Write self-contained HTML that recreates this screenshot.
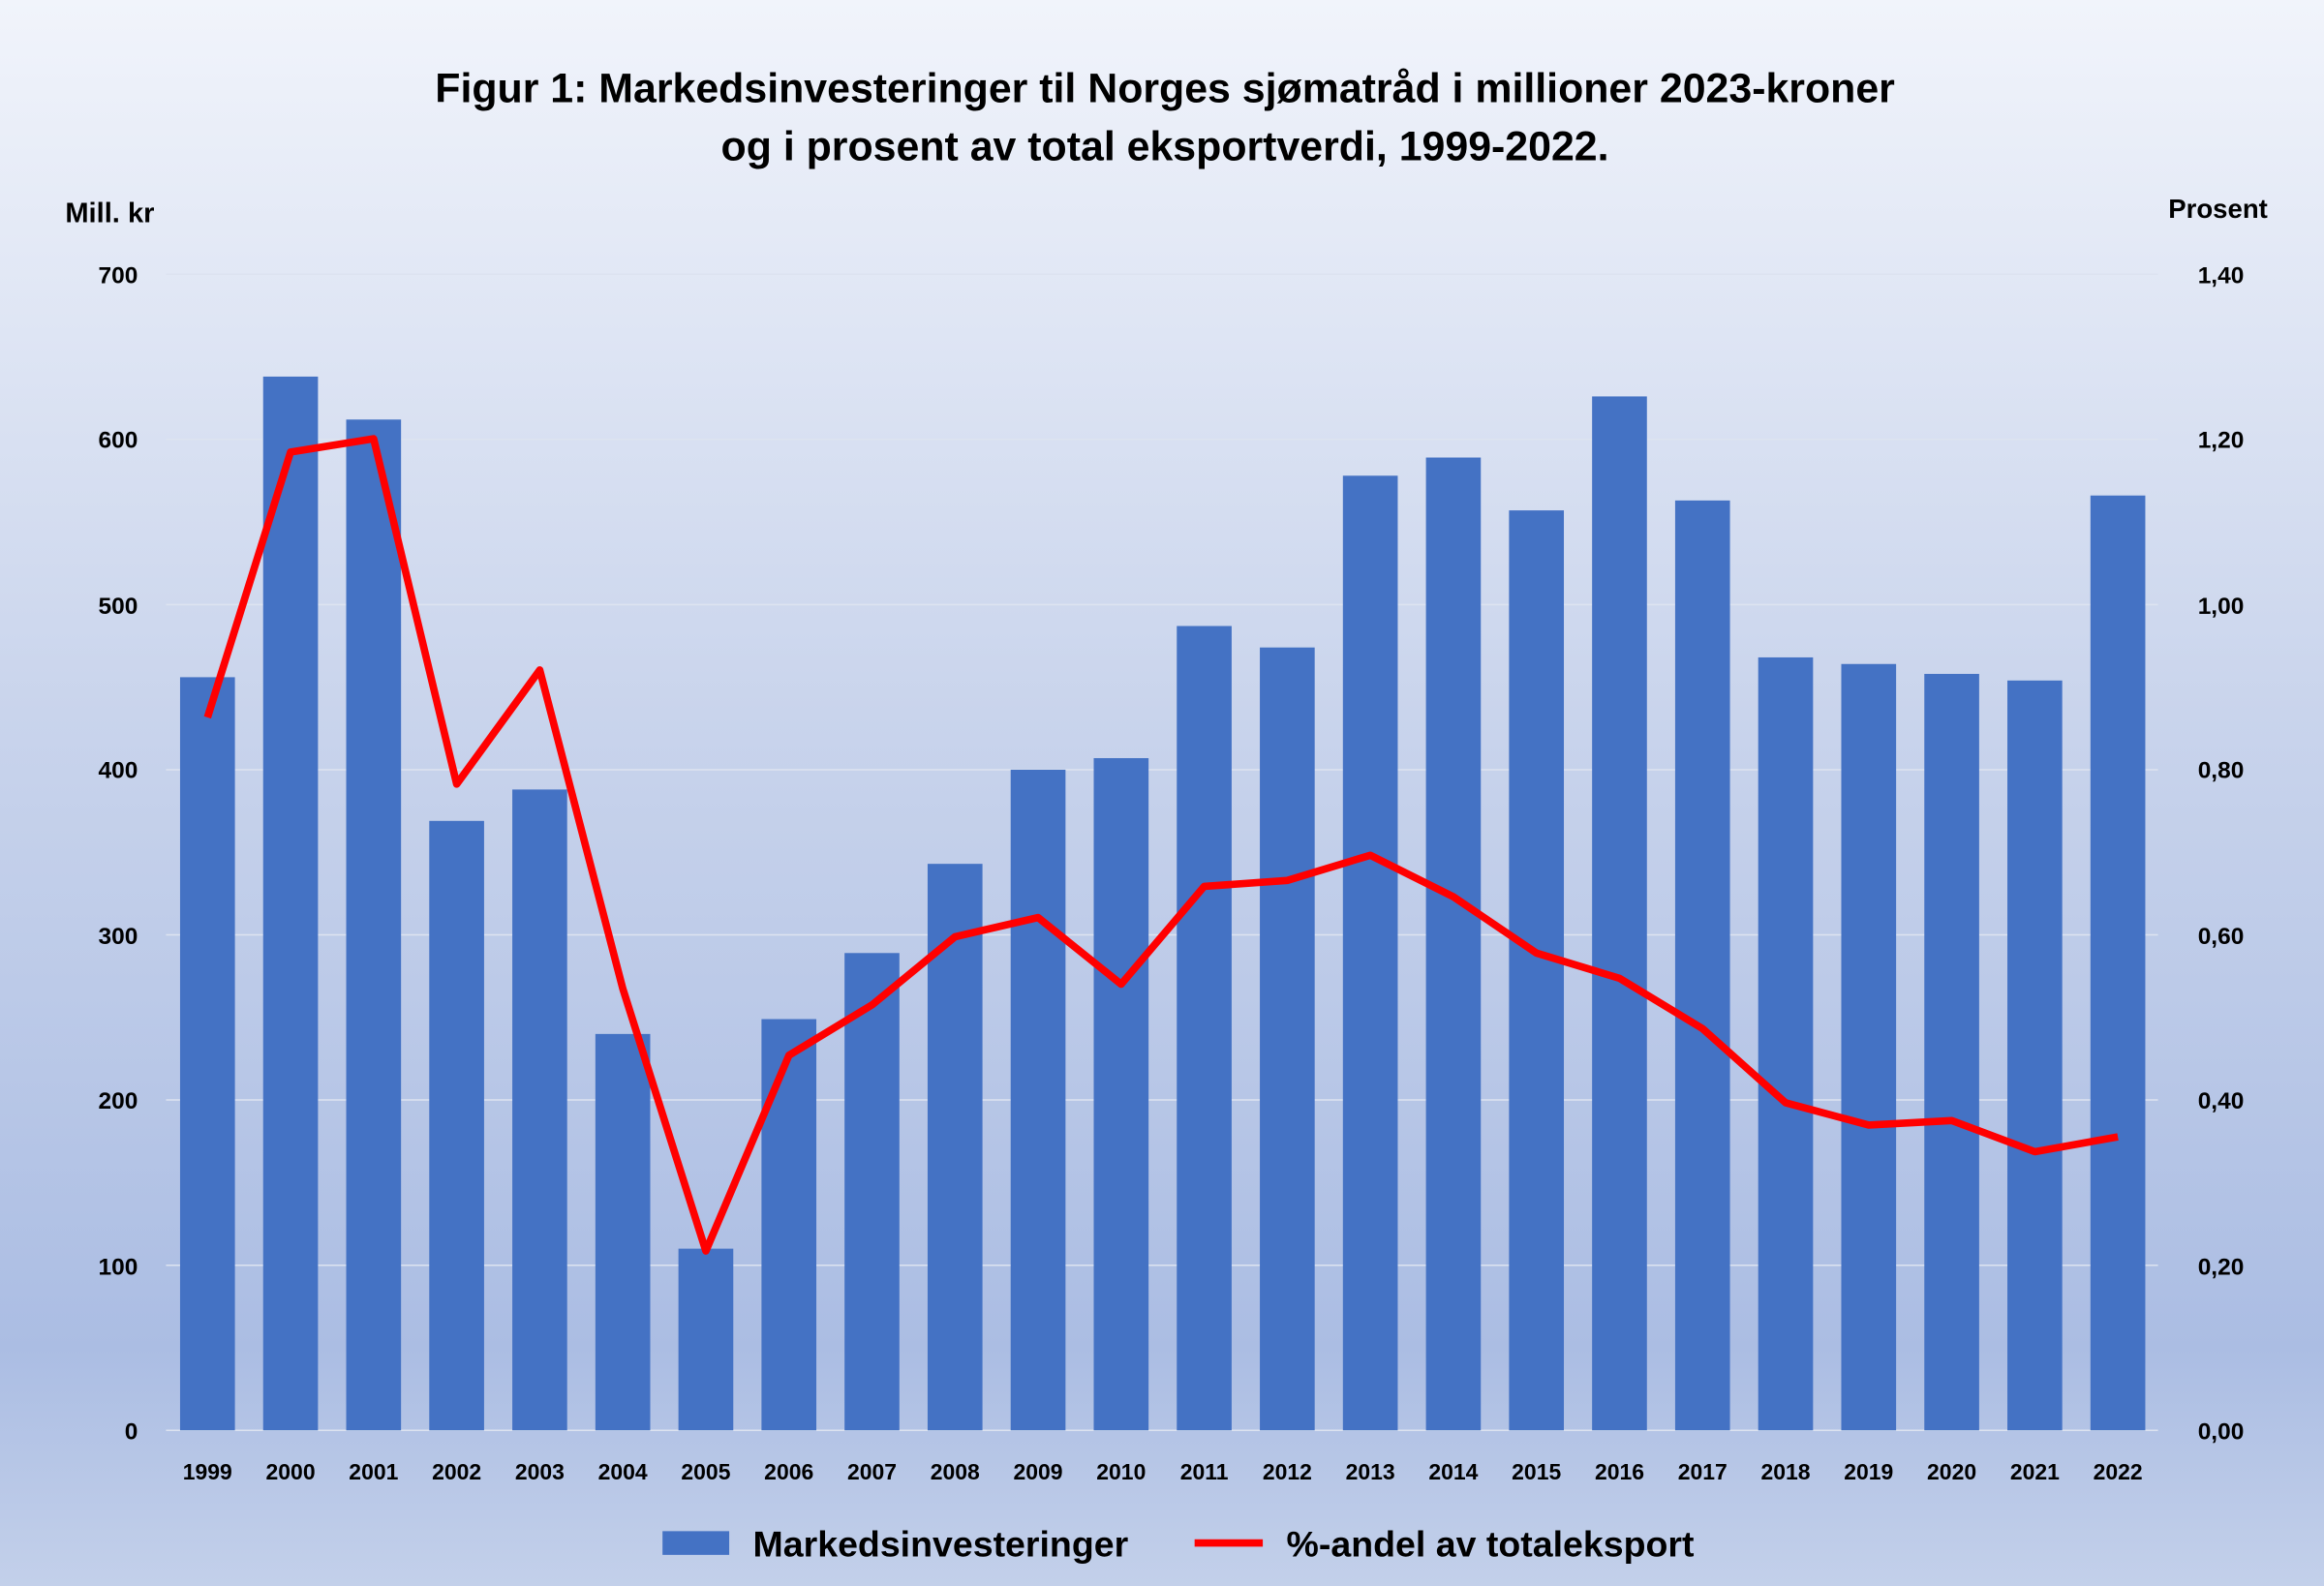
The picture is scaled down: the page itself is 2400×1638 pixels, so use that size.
<!DOCTYPE html>
<html><head><meta charset="utf-8"><style>
html,body{margin:0;padding:0;width:2400px;height:1638px;overflow:hidden}
svg{display:block}
text{font-family:"Liberation Sans",sans-serif;font-weight:bold;fill:#000}
</style></head><body>
<svg width="2400" height="1638" viewBox="0 0 1568 1070" preserveAspectRatio="none">
<defs><linearGradient id="bg" x1="0" y1="0" x2="0" y2="1">
<stop offset="0" stop-color="#f1f4fb"/><stop offset="0.45" stop-color="#c9d4ec"/>
<stop offset="0.85" stop-color="#abbde3"/><stop offset="1" stop-color="#c3d0ea"/></linearGradient></defs>
<rect width="1568" height="1070" fill="url(#bg)"/>
<text x="786" y="69" font-size="28" text-anchor="middle">Figur 1: Markedsinvesteringer til Norges sjømatråd i millioner 2023-kroner</text>
<text x="786" y="108" font-size="28" text-anchor="middle">og i prosent av total eksportverdi, 1999-2022.</text>
<text x="44" y="150" font-size="19">Mill. kr</text>
<text x="1530" y="147" font-size="18" text-anchor="end">Prosent</text>
<g stroke="#dde3f0" stroke-width="1">
<line x1="112" x2="1456" y1="185" y2="185"/><line x1="112" x2="1456" y1="296.4" y2="296.4"/>
<line x1="112" x2="1456" y1="407.9" y2="407.9"/><line x1="112" x2="1456" y1="519.3" y2="519.3"/>
<line x1="112" x2="1456" y1="630.7" y2="630.7"/><line x1="112" x2="1456" y1="742.1" y2="742.1"/>
<line x1="112" x2="1456" y1="853.6" y2="853.6"/><line x1="112" x2="1456" y1="965" y2="965"/>
</g>
<g font-size="16" text-anchor="end">
<text x="93" y="191">700</text><text x="93" y="302">600</text><text x="93" y="414">500</text>
<text x="93" y="525">400</text><text x="93" y="637">300</text><text x="93" y="748">200</text>
<text x="93" y="860">100</text><text x="93" y="971">0</text>
</g>
<g font-size="16" text-anchor="end">
<text x="1514" y="191">1,40</text><text x="1514" y="302">1,20</text><text x="1514" y="414">1,00</text>
<text x="1514" y="525">0,80</text><text x="1514" y="637">0,60</text><text x="1514" y="748">0,40</text>
<text x="1514" y="860">0,20</text><text x="1514" y="971">0,00</text>
</g>
<g id="bars" fill="#4472c4"></g>
<g id="xl" font-size="15" text-anchor="middle"></g>
<polyline id="ln" fill="none" stroke="#ff0000" stroke-width="5" stroke-linejoin="round"/>
<rect x="447" y="1033" width="45" height="16" fill="#4472c4"/>
<text x="508" y="1050" font-size="24.5">Markedsinvesteringer</text>
<line x1="806" x2="852" y1="1041" y2="1041" stroke="#ff0000" stroke-width="5"/>
<text x="868" y="1050" font-size="24.5">%-andel av totaleksport</text>
<script>
var v=[456,638,612,369,388,240,110,249,289,343,400,407,487,474,578,589,557,626,563,468,464,458,454,566];
var l=[484,305,296,529,452,667,844,712,678,632,619,664,598,594,577,605,643,660,694,744,759,756,777,767];
var ns="http://www.w3.org/2000/svg",b=document.getElementById("bars"),x=document.getElementById("xl"),pts=[];
for(var i=0;i<24;i++){var c=140+i*56.04,h=v[i]*1.1143;
var r=document.createElementNS(ns,"rect");r.setAttribute("x",c-18.5);r.setAttribute("width",37);r.setAttribute("y",965-h);r.setAttribute("height",h);b.appendChild(r);
var t=document.createElementNS(ns,"text");t.setAttribute("x",c);t.setAttribute("y",998);t.textContent=1999+i;x.appendChild(t);
pts.push(c+","+l[i]);}
document.getElementById("ln").setAttribute("points",pts.join(" "));
</script>
</svg>
</body></html>
